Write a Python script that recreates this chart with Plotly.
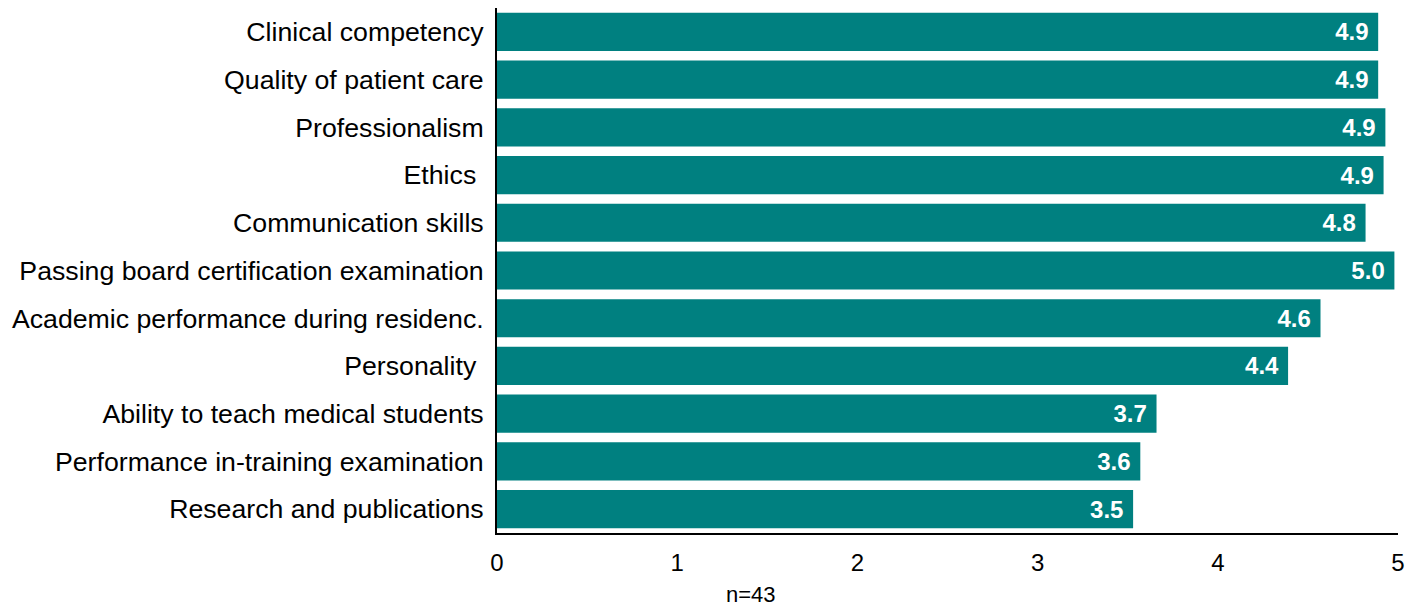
import plotly.graph_objects as go

categories = [
    "Clinical competency",
    "Quality of patient care",
    "Professionalism",
    "Ethics ",
    "Communication skills",
    "Passing board certification examination",
    "Academic performance during residenc.",
    "Personality ",
    "Ability to teach medical students",
    "Performance in-training examination",
    "Research and publications",
]
values = [4.89, 4.89, 4.93, 4.92, 4.82, 4.98, 4.57, 4.39, 3.66, 3.57, 3.53]
x_ticks = [0, 1, 2, 3, 4, 5]
note = "n=43"

FONT = "Liberation Sans, Arial, sans-serif"

fig = go.Figure(
    go.Bar(
        x=values,
        y=categories,
        orientation="h",
        marker=dict(color="#008080", line=dict(width=0)),
        texttemplate="<b>%{x:.1f}</b> ",
        textposition="inside",
        insidetextanchor="end",
        textfont=dict(color="white", size=24, family=FONT),
        width=0.8,
    )
)

fig.update_layout(
    width=1402,
    height=601,
    margin=dict(l=489, r=12, t=0, b=76),
    plot_bgcolor="white",
    paper_bgcolor="white",
    showlegend=False,
    font=dict(family=FONT, color="black", size=24),
    bargap=0.2,
)
fig.update_yaxes(
    autorange="reversed",
    showline=True,
    linecolor="black",
    linewidth=2,
    showgrid=False,
    ticks="",
    ticklabelstandoff=6,
    tickfont=dict(size=26.7),
)
fig.update_xaxes(
    range=[0, 5],
    tickvals=x_ticks,
    showline=True,
    linecolor="black",
    linewidth=2,
    showgrid=False,
    zeroline=False,
    ticks="",
    ticklabelstandoff=7,
    tickfont=dict(size=24),
)
fig.add_annotation(
    text=note,
    xref="x", yref="paper",
    x=1.407, y=-0.117,
    yanchor="middle",
    showarrow=False,
    borderpad=0,
    font=dict(size=22),
)

fig.write_html("out.html")
